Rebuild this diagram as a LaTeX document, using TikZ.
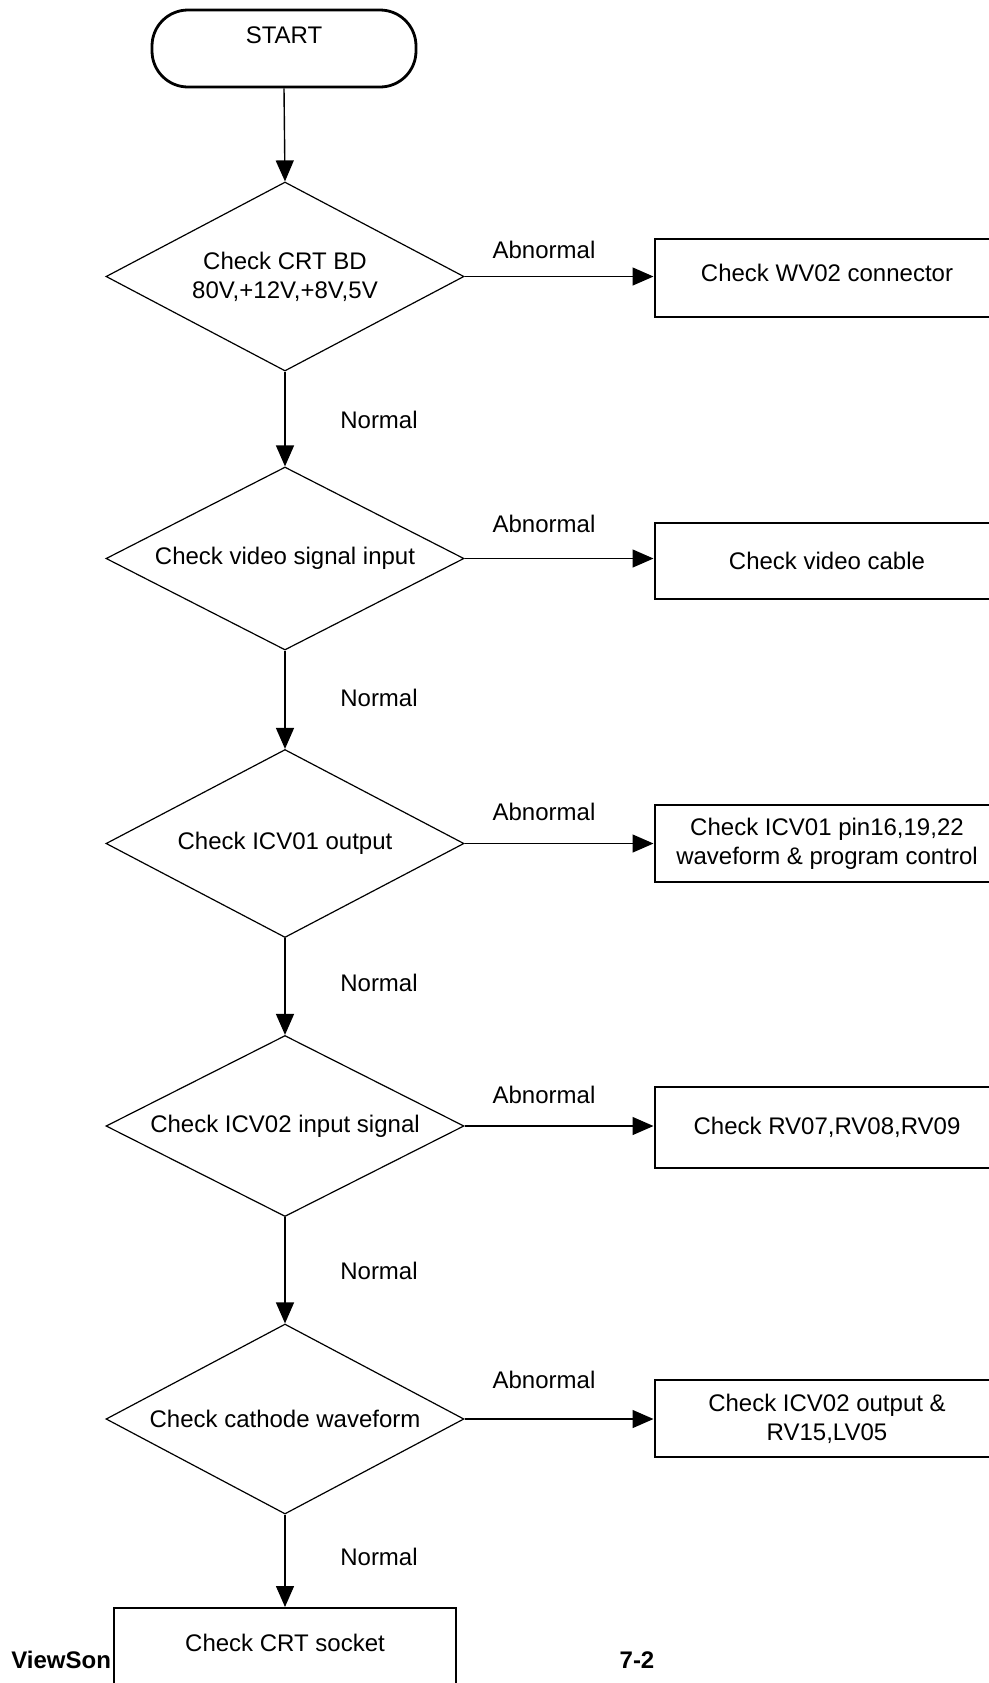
\documentclass[tikz,border=0pt]{standalone}
\usepackage{fontspec}
\setmainfont{Liberation Sans}
\usetikzlibrary{shapes.geometric,arrows.meta}
\begin{document}
\begin{tikzpicture}[x=0.5pt,y=-0.5pt,
  every node/.style={font=\fontsize{12pt}{14.5pt}\selectfont},
  decision/.style={draw, line width=0.6pt, shape=diamond, inner sep=0pt, aspect=1.9,
    minimum width=179pt, align=center},
  actbox/.style={draw, line width=1pt, rectangle, minimum width=172.5pt, align=center, fill=white},
  conn/.style={line width=0.7pt, -{Triangle[length=10.5pt,width=9pt]}},
  lbl/.style={inner sep=0pt},
  foot/.style={font=\fontsize{12pt}{14.5pt}\selectfont\bfseries, inner sep=0pt}]
\useasboundingbox (0,0) rectangle (989,1683);
\clip (0,0) rectangle (989,1683);

\node[draw, line width=1.4pt, rounded corners=18pt, minimum width=132pt, minimum height=38.5pt, align=center] (start) at (284,48.5) {START\\[-1pt]\mbox{}};

\node[decision, minimum height=94.5pt] (d1) at (285,276.5) {Check CRT BD\\80V,+12V,+8V,5V};
\node[decision, minimum height=91.5pt] (d2) at (285,558.5) {Check video signal input};
\node[decision, minimum height=94pt] (d3) at (285,843.5) {Check ICV01 output};
\node[decision, minimum height=90.5pt] (d4) at (285,1126) {Check ICV02 input signal};
\node[decision, minimum height=95pt] (d5) at (285,1419) {Check cathode waveform};

\node[actbox, minimum height=39pt] (b1) at (827,278) {Check WV02 connector\\[-9pt]\mbox{}};
\node[actbox, minimum height=38pt] (b2) at (827,561) {Check video cable};
\node[actbox, minimum height=38.5pt] (b3) at (827,843.5) {Check ICV01 pin16,19,22\\waveform \& program control};
\node[actbox, minimum height=40.5pt] (b4) at (827,1127.5) {Check RV07,RV08,RV09};
\node[actbox, minimum height=38.5pt] (b5) at (827,1418.5) {Check ICV02 output \&\\RV15,LV05};

\node[foot, anchor=west] (vs) at (11,1660) {ViewSon};
\node[foot] (pg) at (637,1660) {7-2};

\node[actbox, minimum width=171pt, minimum height=38pt] (fin) at (285,1646) {Check CRT socket\\[-11.5pt]\mbox{}};

\draw[conn] (start.south) -- (d1.north);
\draw[conn] (d1.south) -- (d2.north);
\draw[conn] (d2.south) -- (d3.north);
\draw[conn] (d3.south) -- (d4.north);
\draw[conn] (d4.south) -- (d5.north);
\draw[conn] (d5.south) -- (fin.north);

\draw[conn] (d1.east) -- (d1.east -| b1.west);
\draw[conn] (d2.east) -- (d2.east -| b2.west);
\draw[conn] (d3.east) -- (d3.east -| b3.west);
\draw[conn] (d4.east) -- (d4.east -| b4.west);
\draw[conn] (d5.east) -- (d5.east -| b5.west);

\node[lbl] (a1) at (544,250) {Abnormal};
\node[lbl] (a2) at (544,524) {Abnormal};
\node[lbl] (a3) at (544,812) {Abnormal};
\node[lbl] (a4) at (544,1095) {Abnormal};
\node[lbl] (a5) at (544,1380) {Abnormal};

\node[lbl] (n1) at (379,420) {Normal};
\node[lbl] (n2) at (379,698) {Normal};
\node[lbl] (n3) at (379,982.5) {Normal};
\node[lbl] (n4) at (379,1271) {Normal};
\node[lbl] (n5) at (379,1557) {Normal};
\end{tikzpicture}
\end{document}
